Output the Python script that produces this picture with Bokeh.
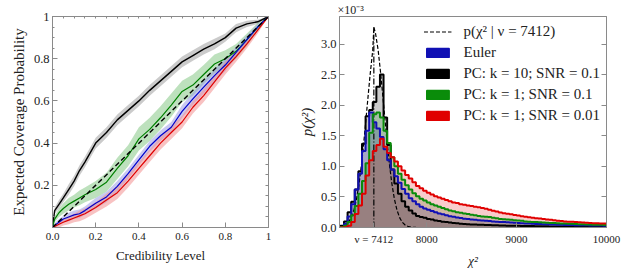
from bokeh.plotting import figure
from bokeh.layouts import row
from bokeh.models import FixedTicker, LinearAxis, Legend, LegendItem, PrintfTickFormatter
from bokeh.embed import file_html
from bokeh.resources import INLINE

FONT = "Liberation Serif"
NAN = float("nan")

# ---------------- Left panel data (coverage) ----------------
cred = [0, 0.01, 0.03, 0.05, 0.075, 0.1, 0.125, 0.15, 0.2, 0.25, 0.3, 0.35, 0.4,
        0.45, 0.5, 0.55, 0.6, 0.65, 0.7, 0.75, 0.8, 0.85, 0.9, 0.95, 1.0]
cov_k10 = [0, 0.08, 0.11, 0.14, 0.18, 0.22, 0.27, 0.31, 0.40, 0.45, 0.51, 0.555, 0.60,
           0.65, 0.695, 0.74, 0.785, 0.815, 0.845, 0.87, 0.90, 0.945, 0.965, 0.975, 1.0]
cov_k1_01 = [0, 0.04, 0.07, 0.09, 0.11, 0.125, 0.14, 0.155, 0.18, 0.215, 0.28, 0.34, 0.42,
             0.465, 0.52, 0.58, 0.645, 0.675, 0.725, 0.775, 0.80, 0.835, 0.89, 0.95, 1.0]
cov_euler = [0, 0.01, 0.025, 0.04, 0.05, 0.06, 0.065, 0.08, 0.115, 0.145, 0.195, 0.255, 0.32,
             0.385, 0.435, 0.475, 0.55, 0.61, 0.665, 0.72, 0.77, 0.83, 0.89, 0.95, 1.0]
cov_k1_001 = [0, 0.005, 0.015, 0.025, 0.035, 0.045, 0.055, 0.065, 0.095, 0.13, 0.165, 0.22, 0.28,
              0.34, 0.40, 0.45, 0.50, 0.57, 0.625, 0.69, 0.755, 0.81, 0.87, 0.935, 1.0]
band_k10 = [0, 0.015, 0.02, 0.02, 0.025, 0.025, 0.025, 0.025, 0.025, 0.025, 0.025, 0.025, 0.025,
            0.025, 0.025, 0.025, 0.025, 0.025, 0.025, 0.025, 0.02, 0.02, 0.015, 0.01, 0]
band_k1_01 = [0, 0.015, 0.02, 0.025, 0.03, 0.03, 0.035, 0.035, 0.04, 0.045, 0.05, 0.05, 0.055,
              0.055, 0.055, 0.055, 0.05, 0.05, 0.045, 0.045, 0.04, 0.035, 0.03, 0.02, 0]
band_euler = [0, 0.01, 0.015, 0.015, 0.02, 0.02, 0.02, 0.02, 0.025, 0.025, 0.025, 0.025, 0.025,
              0.025, 0.025, 0.025, 0.03, 0.03, 0.03, 0.03, 0.03, 0.025, 0.02, 0.015, 0]
band_k1_001 = [0, 0.01, 0.015, 0.015, 0.02, 0.02, 0.025, 0.025, 0.025, 0.03, 0.03, 0.03, 0.03,
               0.03, 0.03, 0.03, 0.03, 0.03, 0.03, 0.03, 0.03, 0.025, 0.02, 0.015, 0]

# ---------------- Right panel data (chi^2 histograms, density in 1e-3) ----------------
nu = 7412
bin_start = 7000
bin_width = 40
hist_k10 = [0.0, 0.03, 0.10, 0.25, 0.42, 0.62, 0.92, 1.37, 1.82, 1.92, 2.05, 2.30, 2.50, 1.80,
            1.35, 0.95, 0.72, 0.55, 0.43, 0.34, 0.28, 0.23, 0.19, 0.17, 0.16, 0.14, 0.13, 0.115,
            0.105, 0.095, 0.088, 0.08, 0.074, 0.068, 0.062, 0.057, 0.053,
            0.05, 0.048, 0.046, 0.044, 0.042, 0.04, 0.038, 0.036, 0.034, 0.032, 0.03, 0.029,
            0.028, 0.027, 0.026, 0.025, 0.024, 0.023, 0.022, 0.021, 0.02, 0.019, 0.018, 0.018,
            0.017, 0.016, 0.016, 0.015, 0.015, 0.014, 0.014, 0.013, 0.013, 0.012, 0.012, 0.012,
            0.011, 0.011]
hist_euler = [0.0, 0.01, 0.06, 0.18, 0.38, 0.62, 0.88, 1.25, 1.58, 1.88, 1.72, 1.62, 1.48, 1.28,
              1.10, 0.95, 0.84, 0.73, 0.63, 0.55, 0.48, 0.43, 0.38, 0.34, 0.31, 0.29, 0.27, 0.25,
              0.23, 0.215, 0.20, 0.185, 0.175, 0.165, 0.155, 0.145, 0.14,
              0.13, 0.125, 0.12, 0.115, 0.11, 0.105, 0.10, 0.095, 0.09, 0.088, 0.085, 0.08,
              0.077, 0.074, 0.07, 0.067, 0.064, 0.06, 0.058, 0.056, 0.054, 0.052, 0.05, 0.048,
              0.046, 0.044, 0.042, 0.04, 0.039, 0.038, 0.037, 0.036, 0.035, 0.034, 0.033, 0.032,
              0.031, 0.03]
hist_k1_01 = [0.0, 0.01, 0.03, 0.09, 0.20, 0.35, 0.55, 0.76, 1.05, 1.55, 1.85, 1.88, 1.80, 1.58,
              1.38, 1.15, 1.00, 0.88, 0.78, 0.69, 0.62, 0.56, 0.51, 0.47, 0.44, 0.41, 0.38, 0.36,
              0.34, 0.32, 0.30, 0.28, 0.265, 0.25, 0.24, 0.23, 0.22,
              0.21, 0.20, 0.19, 0.18, 0.175, 0.17, 0.16, 0.15, 0.14, 0.135, 0.13, 0.125, 0.12,
              0.115, 0.11, 0.10, 0.095, 0.09, 0.088, 0.085, 0.082, 0.078, 0.075, 0.072, 0.07,
              0.067, 0.064, 0.062, 0.06, 0.057, 0.055, 0.053, 0.05, 0.048, 0.046, 0.045, 0.043,
              0.04]
hist_k1_001 = [0.0, 0.0, 0.005, 0.03, 0.09, 0.22, 0.36, 0.55, 0.85, 1.10, 1.25, 1.35, 1.45, 1.32,
               1.22, 1.15, 1.08, 1.00, 0.93, 0.86, 0.80, 0.74, 0.68, 0.64, 0.60, 0.57, 0.54, 0.51,
               0.49, 0.47, 0.45, 0.43, 0.41, 0.40, 0.38, 0.37, 0.36,
               0.35, 0.34, 0.33, 0.32, 0.305, 0.29, 0.275, 0.26, 0.245, 0.235, 0.225, 0.215,
               0.205, 0.195, 0.185, 0.175, 0.168, 0.16, 0.153, 0.146, 0.139, 0.132, 0.125, 0.118,
               0.112, 0.106, 0.10, 0.096, 0.092, 0.088, 0.084, 0.08, 0.077, 0.074, 0.071, 0.068,
               0.066, 0.064]
chi2_x = [7010, 7040, 7070, 7100, 7130, 7160, 7190, 7220, 7250, 7280, 7310, 7340, 7370, 7400,
          7412, 7430, 7460, 7490, 7520, 7550, 7580, 7610, 7640, 7670, 7700, 7730, 7760, 7790,
          7820, 7850, 7880]
chi2_pdf = [0.003, 0.008, 0.019, 0.041, 0.083, 0.158, 0.281, 0.47, 0.741, 1.10, 1.54, 2.02,
            2.49, 2.90, 3.275, 3.18, 2.90, 2.49, 2.02, 1.54, 1.10, 0.741, 0.47, 0.281, 0.158,
            0.083, 0.041, 0.019, 0.008, 0.003, 0.001]

yticks_r = [0, 0.5, 1.0, 1.5, 2.0, 2.5, 3.0]
xticks_r = [nu, 8000, 9000, 10000]
major_l = [0, 0.2, 0.4, 0.6, 0.8, 1]
minor_l = [i * 0.05 for i in range(21)]

H = 270

# ---------------- Left figure ----------------
p1 = figure(width=295, height=H, x_range=(0, 1), y_range=(0, 1),
            output_backend="svg", toolbar_location=None,
            min_border_left=52, min_border_right=27, min_border_top=12, min_border_bottom=H - 227)
p1.title = None
p1.grid.visible = False
p1.outline_line_color = "#8a8a8a"

series_left = [
    (cov_k10, band_k10, "black", "#a0a0a0", 1.4),
    (cov_k1_01, band_k1_01, "#008000", "#86c986", 1.2),
    (cov_euler, band_euler, "#0000cc", "#9a9ae6", 1.2),
    (cov_k1_001, band_k1_001, "#e00000", "#f29090", 1.2),
]
for cov, band, lc, bc, lw in series_left:
    lo = [c - b for c, b in zip(cov, band)]
    hi = [c + b for c, b in zip(cov, band)]
    p1.varea(x=cred, y1=lo, y2=hi, fill_color=bc, fill_alpha=0.55)
for cov, band, lc, bc, lw in series_left:
    p1.line(cred, cov, line_color=lc, line_width=lw)
p1.line([0, 1], [0, 1], line_color="black", line_dash="5 3", line_width=1.4)

p1.xaxis.ticker = FixedTicker(ticks=major_l, minor_ticks=minor_l)
p1.yaxis.ticker = FixedTicker(ticks=major_l, minor_ticks=minor_l)
p1.xaxis.major_label_overrides = {0: "0.0", 0.2: "0.2", 0.4: "0.4", 0.6: "0.6", 0.8: "0.8", 1: "1"}
p1.yaxis.major_label_overrides = {0: " ", 0.2: "0.2", 0.4: "0.4", 0.6: "0.6", 0.8: "0.8", 1: "1"}
p1.xaxis.axis_label = "Credibility Level"
p1.yaxis.axis_label = "Expected Coverage Probability"

for extra_loc in ["above", "right"]:
    ax = LinearAxis(ticker=FixedTicker(ticks=[], minor_ticks=minor_l))
    ax.minor_tick_in = 3
    ax.major_label_standoff = 0
    ax.axis_label_standoff = 0
    ax.major_label_text_font_size = "1px"
    ax.axis_label_text_font_size = "1px"
    p1.add_layout(ax, extra_loc)

for ax in p1.axis:
    ax.axis_line_color = "#8a8a8a"
    ax.major_tick_line_color = "#8a8a8a"
    ax.minor_tick_line_color = "#8a8a8a"
    ax.major_tick_in = 5
    ax.major_tick_out = 0
    ax.minor_tick_out = 0
    ax.major_label_text_font = FONT
    ax.axis_label_text_font = FONT
    ax.axis_label_text_font_style = "normal"
    ax.axis_label_text_color = "#222222"
    ax.major_label_text_color = "#222222"
for ax in [p1.xaxis[0], p1.yaxis[0]]:
    ax.minor_tick_in = 2
    ax.major_label_text_font_size = "12.5px"
p1.xaxis[0].axis_label_text_font_size = "15.5px"
p1.yaxis[0].axis_label_text_font_size = "15px"
p1.xaxis[0].major_label_standoff = 0
p1.yaxis[0].major_label_standoff = 3
p1.xaxis[0].axis_label_standoff = 0
p1.yaxis[0].axis_label_standoff = 4

# ---------------- Right figure ----------------
p2 = figure(width=327, height=H, x_range=(7030, 10000), y_range=(0, 3.45),
            output_backend="svg", toolbar_location=None,
            min_border_left=40, min_border_right=16, min_border_top=12, min_border_bottom=H - 229)
p2.grid.visible = False
p2.outline_line_color = "#8a8a8a"
p2.title.text = "×10⁻³"
p2.title.align = "left"
p2.title.text_font = FONT
p2.title.text_font_size = "12px"
p2.title.text_font_style = "normal"
p2.title.text_color = "#222222"
p2.title.standoff = 0
p2.title.offset = -2

edges = [bin_start + bin_width * i for i in range(len(hist_k10) + 1)]
hist_series = [
    (hist_k10, "black", "PC: k = 10; SNR = 0.1"),
    (hist_euler, "#1010b4", "Euler"),
    (hist_k1_01, "#0a8c0a", "PC: k = 1; SNR = 0.1"),
    (hist_k1_001, "#e00000", "PC: k = 1; SNR = 0.01"),
]
for vals, col, lab in hist_series:
    yv = list(vals) + [vals[-1]]
    p2.varea_step(x=edges, y1=[0] * len(edges), y2=yv, step_mode="after",
                  fill_color=col, fill_alpha=0.2)

chi_r = p2.line(chi2_x, chi2_pdf, line_color="black", line_dash="4 2", line_width=1.2)
p2.segment(x0=[nu], y0=[0], x1=[nu], y1=[max(chi2_pdf)], line_color="black",
           line_dash="6 2 1 2", line_width=1.2)

for vals, col, lab in hist_series:
    yv = list(vals) + [vals[-1]]
    p2.step(x=edges, y=yv, mode="after", line_color=col, line_width=2)

legend_r = {}
for vals, col, lab in hist_series:
    legend_r[lab] = p2.quad(left=[NAN], right=[NAN], top=[NAN], bottom=[NAN],
                            fill_color=col, line_color=col, line_width=1.5)

legend = Legend(items=[
    LegendItem(label="p(χ² | ν = 7412)", renderers=[chi_r]),
    LegendItem(label="Euler", renderers=[legend_r["Euler"]]),
    LegendItem(label="PC: k = 10; SNR = 0.1", renderers=[legend_r["PC: k = 10; SNR = 0.1"]]),
    LegendItem(label="PC: k = 1; SNR = 0.1", renderers=[legend_r["PC: k = 1; SNR = 0.1"]]),
    LegendItem(label="PC: k = 1; SNR = 0.01", renderers=[legend_r["PC: k = 1; SNR = 0.01"]]),
], location="top_right")
legend.border_line_color = None
legend.background_fill_alpha = 0
legend.label_text_font = FONT
legend.label_text_font_size = "15px"
legend.label_text_color = "#222222"
legend.glyph_width = 28
legend.glyph_height = 11
legend.label_height = 18
legend.spacing = 3
legend.label_standoff = 12
legend.padding = 4
legend.margin = 6
p2.add_layout(legend)

p2.xaxis.ticker = FixedTicker(ticks=xticks_r)
p2.yaxis.ticker = FixedTicker(ticks=yticks_r)
p2.xaxis.major_label_overrides = {nu: "ν = 7412"}
p2.yaxis.formatter = PrintfTickFormatter(format="%.1f")
p2.xaxis.axis_label = "χ²"
p2.yaxis.axis_label = "p(χ²)"

for extra_loc, tks in [("above", xticks_r), ("right", yticks_r)]:
    ax = LinearAxis(ticker=FixedTicker(ticks=[], minor_ticks=tks))
    ax.major_label_standoff = 0
    ax.axis_label_standoff = 0
    ax.major_label_text_font_size = "1px"
    ax.axis_label_text_font_size = "1px"
    p2.add_layout(ax, extra_loc)

for ax in p2.axis:
    ax.axis_line_color = "#8a8a8a"
    ax.major_tick_line_color = "#8a8a8a"
    ax.minor_tick_line_color = "#8a8a8a"
    ax.major_tick_in = 5
    ax.major_tick_out = 0
    ax.minor_tick_in = 5
    ax.minor_tick_out = 0
    ax.major_label_text_font = FONT
    ax.axis_label_text_font = FONT
    ax.axis_label_text_font_style = "italic"
    ax.axis_label_text_color = "#222222"
    ax.major_label_text_color = "#222222"
for ax in [p2.xaxis[0], p2.yaxis[0]]:
    ax.minor_tick_line_color = None
    ax.major_label_text_font_size = "12.5px"
    ax.axis_label_text_font_size = "15px"
p2.xaxis[0].major_label_standoff = 0
p2.yaxis[0].major_label_standoff = 3
p2.xaxis[0].axis_label_standoff = 0
p2.yaxis[0].axis_label_standoff = 3

layout = row(p1, p2)
open("out.html", "w").write(file_html(layout, INLINE))
